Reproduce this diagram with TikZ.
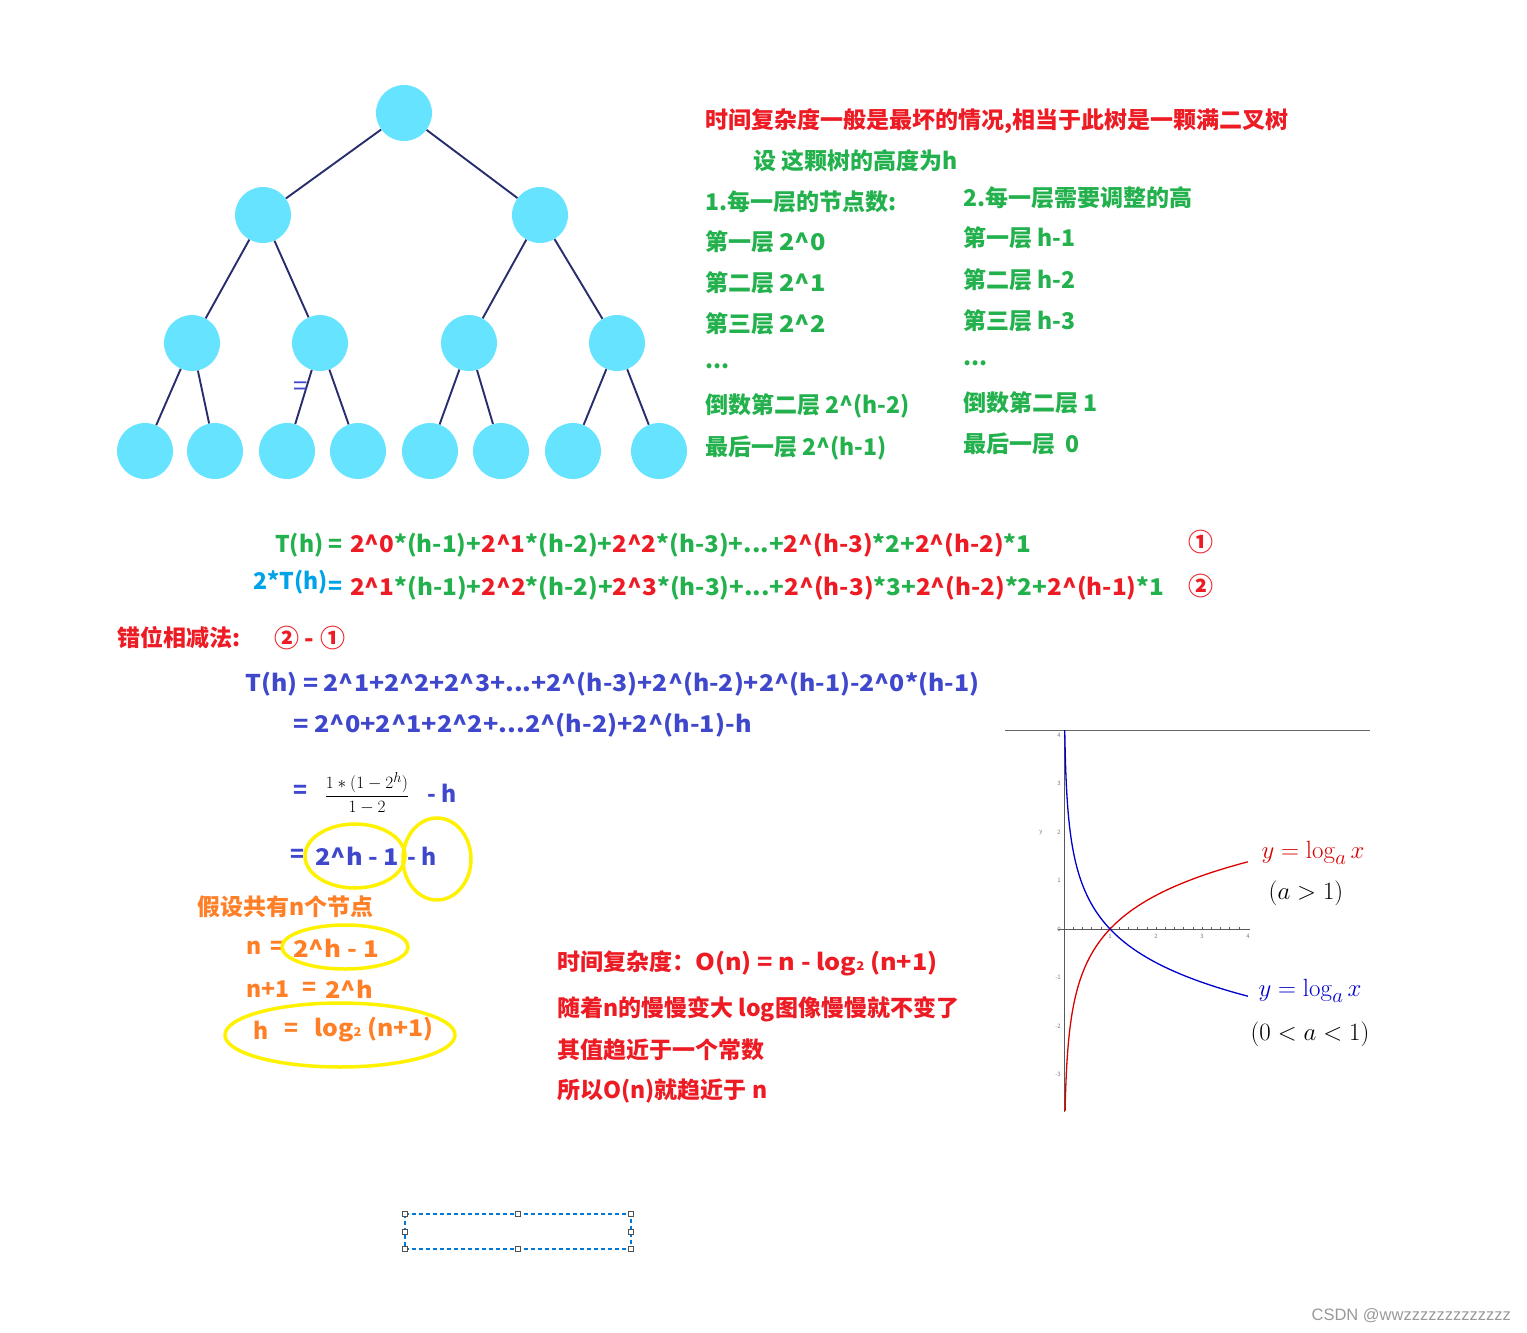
\documentclass[tikz,border=0pt]{standalone}
\usepackage{amsmath}
\usepackage[no-math]{fontspec}
\setmainfont{Noto Sans CJK SC}
\newfontfamily\wmfont{Liberation Sans}
\usetikzlibrary{calc,positioning}
\definecolor{fred}{RGB}{237,28,36}
\definecolor{fgreen}{RGB}{34,177,76}
\definecolor{fcyan}{RGB}{0,162,232}
\definecolor{fblue}{RGB}{63,72,204}
\definecolor{forange}{RGB}{255,127,39}
\definecolor{fyellow}{RGB}{255,242,0}
\definecolor{nodecyan}{RGB}{102,228,255}
\definecolor{edgeblue}{RGB}{40,45,110}
\definecolor{handlegrey}{RGB}{80,80,80}
\newcommand\crt{\textasciicircum}
\newcommand\rd[1]{\textcolor{fred}{#1}}
\newcommand\subtwo{{\fontsize{12}{12}\selectfont 2}}
\newcommand\wider[2]{\scalebox{#1}[1]{#2}}
\tikzset{txt/.style={anchor=west,inner sep=0pt,font=\bfseries\fontsize{23}{26}\selectfont},
redtxt/.style={txt,text=fred},greentxt/.style={txt,text=fgreen},
bluetxt/.style={txt,text=fblue},orangetxt/.style={txt,text=forange}}

\begin{document}
\begin{tikzpicture}[x=1pt,y=-1pt]

\tikzset{cyannode/.style={fill=nodecyan,draw=none,inner sep=0pt,minimum size=56pt,shape=circle},
treeedge/.style={draw=edgeblue,line width=1.9pt},
yellowring/.style={draw=fyellow,line width=3.5pt},
circnum/.style={redtxt,font=\bfseries\fontsize{25}{26}\selectfont},
ticklabel/.style={inner sep=0pt,text=gray,font=\fontsize{6}{6}\selectfont}}

% Page
\fill[white] (0,0) rectangle (1527,1333);
\useasboundingbox (0,0) rectangle (1527,1333);

% Tree nodes
\node[cyannode] (r) at (404,113) {};
\node[cyannode] (a1) at (263,215) {};
\node[cyannode] (a2) at (540,215) {};
\foreach \i/\x in {1/192,2/320,3/469,4/617} \node[cyannode] (b\i) at (\x,343) {};
\foreach \i/\x in {1/145,2/215,3/287,4/358,5/430,6/501,7/573,8/659} \node[cyannode] (c\i) at (\x,451) {};

% Tree edges
\foreach \p/\c in {r/a1,r/a2,a1/b1,a1/b2,a2/b3,a2/b4,b1/c1,b1/c2,b2/c3,b2/c4,b3/c5,b3/c6,b4/c7,b4/c8}
  \draw[treeedge] (\p) -- (\c);
\node[inner sep=0pt,text=fblue,font=\fontsize{26}{26}\selectfont] (stray) at (301,389) {=};

% Heading
\node[redtxt] (title) at (705,121) {时间复杂度一般是最坏的情况,相当于此树是一颗满二叉树};
\node[greentxt] (seth) at (753,161) {设 这颗树的高度为h};

% Nodes per level
\node[greentxt] (p0) at (705,202) {1.每一层的节点数:};
\node[greentxt] (p1) at (705,242) {第一层 \wider{1.1}{2\crt0}};
\node[greentxt] (p2) at (705,283) {第二层 \wider{1.1}{2\crt1}};
\node[greentxt] (p3) at (705,324) {第三层 \wider{1.1}{2\crt2}};
\node[greentxt] (p4) at (705,366) {...};
\node[greentxt] (p5) at (705,406) {倒数第二层 2\crt(h-2)};
\node[greentxt] (p6) at (705,448) {最后一层 2\crt(h-1)};

% Height to adjust per level
\node[greentxt] (q0) at (963,198) {2.每一层需要调整的高};
\node[greentxt] (q1) at (963,238) {第一层 h-1};
\node[greentxt] (q2) at (963,280) {第二层 h-2};
\node[greentxt] (q3) at (963,321) {第三层 h-3};
\node[greentxt] (q4) at (963,363) {...};
\node[greentxt] (q5) at (963,403) {倒数第二层 1};
\node[greentxt] (q6) at (963,444) {最后一层 \ 0};

% Sums
\node[greentxt] (t1) at (275,545) {T(h) =};
\node[greentxt] (t1r) at (350,545) {\wider{1.053}{\rd{2\crt0}*(h-1)+\rd{2\crt1}*(h-2)+\rd{2\crt2}*(h-3)+...+\rd{2\crt(h-3)}*2+\rd{2\crt(h-2)}*1}};
\node[circnum] (one) at (1188,542) {①};
\node[txt,text=fcyan] (t2) at (253,582) {2*T(h)};
\node[txt,text=fcyan] (t2eq) at (328,588) {=};
\node[greentxt] (t2r) at (350,588) {\wider{1.055}{\rd{2\crt1}*(h-1)+\rd{2\crt2}*(h-2)+\rd{2\crt3}*(h-3)+...+\rd{2\crt(h-3)}*3+\rd{2\crt(h-2)}*2+\rd{2\crt(h-1)}*1}};
\node[circnum] (two) at (1188,586) {②};

% Subtraction
\node[redtxt] (shift) at (117,638) {错位相减法:};
\node[circnum] (diff) at (274,638) {② - ①};
\node[bluetxt] (s1) at (245,684) {\wider{1.08}{T(h) = 2\crt1+2\crt2+2\crt3+...+2\crt(h-3)+2\crt(h-2)+2\crt(h-1)-2\crt0*(h-1)}};
\node[bluetxt] (s2) at (293,725) {\wider{1.096}{= 2\crt0+2\crt1+2\crt2+...2\crt(h-2)+2\crt(h-1)-h}};
\node[bluetxt] (s3) at (293,792) {=};
\node[inner sep=0pt,font=\fontsize{19}{21}\selectfont] (frac) at (367,793) {$\dfrac{1*(1-2^h)}{1-2}$};
\node[bluetxt] (s3h) at (427,793) {- h};
\node[bluetxt] (s4) at (290,856) {=};
\node[bluetxt] (s4a) at (315,856) {\wider{1.1}{2\crt{}h - 1}};
\node[bluetxt] (s4h) at (407,856) {- h};
\draw[yellowring] (355,856) ellipse [x radius=50, y radius=32];
\draw[yellowring] (437,859) ellipse [x radius=34, y radius=41];

% Number of nodes
\node[orangetxt] (n0) at (197,907) {假设共有n个节点};
\node[orangetxt] (n1) at (246,948) {n};
\node[orangetxt] (n1eq) at (270,948) {=};
\node[orangetxt] (n1r) at (293,948) {\wider{1.12}{2\crt{}h - 1}};
\node[orangetxt] (n2) at (246,989) {n+1};
\node[orangetxt] (n2eq) at (302,989) {=};
\node[orangetxt] (n2r) at (325,989) {\wider{1.1}{2\crt{}h}};
\node[orangetxt] (n3) at (253,1030) {h};
\node[orangetxt] (n3eq) at (284,1030) {=};
\node[orangetxt] (n3r) at (314,1030) {\wider{1.08}{log\subtwo\ (n+1)}};
\draw[yellowring] (345,947) ellipse [x radius=63, y radius=22];
\draw[yellowring] (340,1035) ellipse [x radius=115, y radius=32];

% Conclusion
\node[redtxt] (o1) at (557,963) {时间复杂度：\wider{1.096}{O(n) = n - log\subtwo\ (n+1)}};
\node[redtxt] (o2) at (557,1009) {随着n的慢慢变大 log图像慢慢就不变了};
\node[redtxt] (o3) at (557,1050) {其值趋近于一个常数};
\node[redtxt] (o4) at (557,1091) {所以O(n)就趋近于 n};

% Log graph
\draw[gray!80!black,line width=0.8pt] (1005,730) -- (1370,730);
\draw[gray!70!black,line width=0.6pt] (1064,735) -- (1064,1112);
\draw[gray!70!black,line width=0.6pt] (1058,929) -- (1250,929);
\foreach \k in {1,...,19} \draw[gray!70!black,line width=0.4pt] ($(1064,929)+(\k*9.2,0)$) -- +(0,-2);
\foreach \k in {1,2,3,4} \node[ticklabel] (xl\k) at ($(1064,936)+(\k*46,0)$) {\k};
\foreach \k/\l in {4/4,3/3,2/2,1/1,0/0,-1/-1,-2/-2,-3/-3} \node[ticklabel,anchor=east] (yl\k) at ($(1061,929)+(0,-\k*48.5)$) {\l};
\node[ticklabel] (ylab) at (1041,833) {y};
\draw[red!85!black,line width=1.3pt,domain=-3.75:1.386,samples=120,smooth] plot ({1064+46*exp(\x)},{929-48.5*\x});
\draw[blue!80!black,line width=1.3pt,domain=-1.386:4.1,samples=120,smooth] plot ({1064+46*exp(-\x)},{929-48.5*\x});
\node[inner sep=0pt,text=red!85!black,font=\fontsize{28}{30}\selectfont] (lred) at (1313,853) {$y=\log_a x$};
\node[inner sep=0pt,font=\fontsize{27}{30}\selectfont] (cred) at (1306,893) {$(a>1)$};
\node[inner sep=0pt,text=blue!80!black,font=\fontsize{28}{30}\selectfont] (lblue) at (1310,991) {$y=\log_a x$};
\node[inner sep=0pt,font=\fontsize{27}{30}\selectfont] (cblue) at (1310,1034) {$(0<a<1)$};

% Selection box
\draw[draw={rgb,255:red,0;green,120;blue,215},line width=1.2pt,dash pattern=on 4pt off 3pt] (405,1214) rectangle (631,1249);
\foreach \hx/\hy in {405/1214,518/1214,631/1214,405/1232,631/1232,405/1249,518/1249,631/1249}
  \draw[handlegrey,fill=white,line width=1pt] ($(\hx,\hy)+(-2.5,-2.5)$) rectangle +(5,5);

% Watermark
\node[anchor=east,inner sep=0pt,text=gray!80,font=\wmfont\fontsize{16.5}{18}\selectfont] (wm) at (1511,1316) {CSDN @wwzzzzzzzzzzzzz};

\end{tikzpicture}
\end{document}
